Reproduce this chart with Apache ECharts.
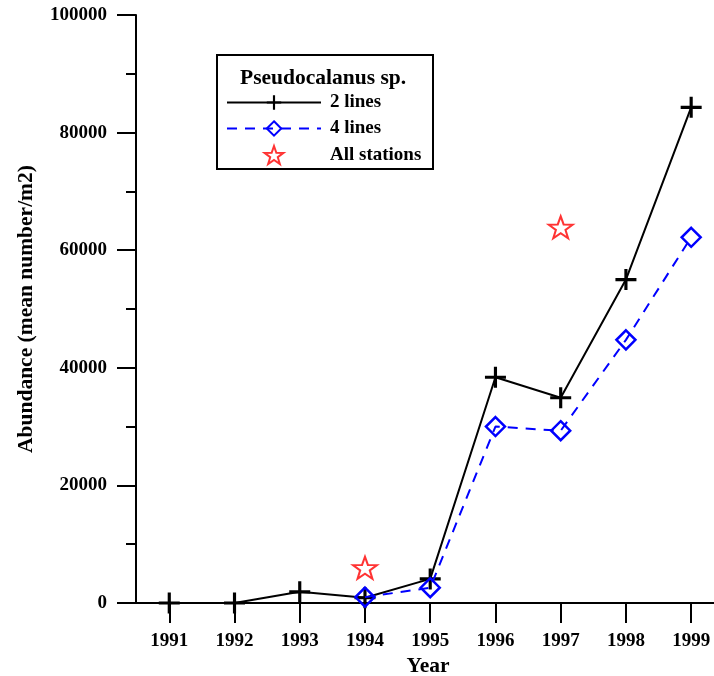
<!DOCTYPE html>
<html>
<head>
<meta charset="utf-8">
<script src="https://cdn.jsdelivr.net/npm/echarts@6/dist/echarts.min.js"></script>
<style>html,body{margin:0;padding:0;background:#fff;overflow:hidden}#c{width:714px;height:676px}</style>
</head>
<body>
<div id="c"></div>
<script>
const years = [1991, 1992, 1993, 1994, 1995, 1996, 1997, 1998, 1999];
const twoLines = [0, 0, 1900, 900, 4100, 38400, 34900, 55000, 84300];
const fourLines = [null, null, null, 1000, 2600, 30000, 29300, 44750, 62200];
const allStationsYears = [1994, 1997];
const allStations = [6000, 63900];
const yTicks = [0, 20000, 40000, 60000, 80000, 100000];

const FONT = '"Liberation Serif", "Times New Roman", serif';
const plusPath = 'path://M0,8.5h20v3h-20z M8.5,0h3v20h-3z';
const starPath = 'path://M50,0 L61.76,33.82 L97.55,34.55 L69.02,56.18 L79.39,90.45 L50,70 L20.61,90.45 L30.98,56.18 L2.45,34.55 L38.24,33.82 Z';

const chart = echarts.init(document.getElementById('c'), null, {renderer: 'canvas'});
chart.setOption({
  backgroundColor: '#fff',
  animation: false,
  grid: {left: 136, right: 0, top: 15, height: 588, containLabel: false, outerBoundsMode: 'none'},
  xAxis: {
    type: 'value',
    min: 1990.49, max: 1999.35,
    name: 'Year', nameLocation: 'middle', nameGap: 49,
    nameTextStyle: {fontFamily: FONT, fontWeight: 'bold', fontSize: 21.5, color: '#000', padding: [0, 0, 0, 6]},
    axisLine: {show: true, lineStyle: {color: '#000', width: 2}},
    axisTick: {show: true, length: 20, lineStyle: {color: '#000', width: 2}, customValues: years},
    axisLabel: {customValues: years, margin: 29, fontFamily: FONT, fontWeight: 'bold', fontSize: 19, color: '#000', formatter: v => String(v)},
    splitLine: {show: false}
  },
  yAxis: {
    type: 'value',
    min: 0, max: 100000, interval: 20000,
    name: 'Abundance (mean number/m2)', nameLocation: 'middle', nameGap: 99, nameRotate: 90,
    nameTextStyle: {fontFamily: FONT, fontWeight: 'bold', fontSize: 21.5, color: '#000'},
    axisLine: {show: true, lineStyle: {color: '#000', width: 2}},
    axisTick: {show: true, length: 19, lineStyle: {color: '#000', width: 2}},
    minorTick: {show: true, splitNumber: 2, length: 10, lineStyle: {color: '#000', width: 2}},
    axisLabel: {margin: 29, fontFamily: FONT, fontWeight: 'bold', fontSize: 19, color: '#000', formatter: v => String(v)},
    splitLine: {show: false}
  },
  legend: {
    orient: 'vertical', left: 226, top: 93, padding: 0,
    itemWidth: 94, itemHeight: 18, itemGap: 7,
    textStyle: {fontFamily: FONT, fontWeight: 'bold', fontSize: 19, lineHeight: 18, color: '#000', padding: [0, 0, 0, 4]},
    data: ['2 lines', '4 lines', 'All stations'],
    z: 10
  },
  graphic: [
    {type: 'rect', left: 216, top: 54, z: 5, shape: {width: 216, height: 114}, style: {fill: '#fff', stroke: '#000', lineWidth: 2}},
    {type: 'text', z: 6, top: 67, left: 240, style: {text: 'Pseudocalanus sp.', font: 'bold 21.5px ' + FONT, fill: '#000'}}
  ],
  series: [
    {
      name: '2 lines', type: 'line',
      data: years.map((y, i) => [y, twoLines[i]]),
      symbol: plusPath, symbolSize: 21,
      itemStyle: {color: '#000'},
      lineStyle: {color: '#000', width: 2},
      z: 3
    },
    {
      name: '4 lines', type: 'line',
      data: years.map((y, i) => [y, fourLines[i]]).filter(d => d[1] !== null),
      symbol: 'diamond', symbolSize: 19,
      itemStyle: {color: 'rgba(255,255,255,0)', borderColor: '#0000ff', borderWidth: 2.5},
      lineStyle: {color: '#0000ff', width: 2, type: [10, 8]},
      z: 4
    },
    {
      name: 'All stations', type: 'scatter',
      data: allStationsYears.map((y, i) => [y, allStations[i]]),
      symbol: starPath, symbolSize: [24, 22],
      itemStyle: {color: 'rgba(255,255,255,0)', borderColor: '#ff0000', borderWidth: 2},
      z: 5
    }
  ]
});
</script>
</body>
</html>
